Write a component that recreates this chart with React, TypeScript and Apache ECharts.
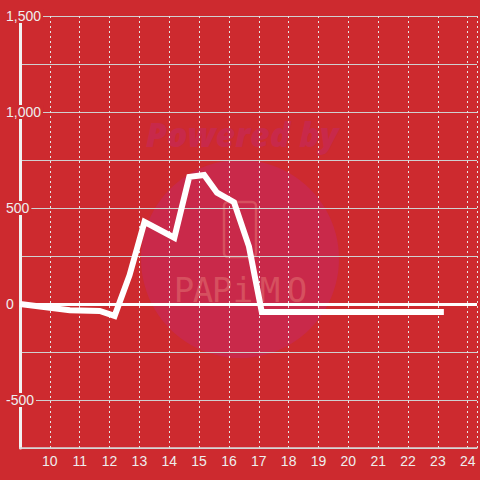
import React, { useEffect, useRef } from "react";
import * as echarts from "echarts";

const hours = [9.0, 10.67, 11.67, 12.17, 12.67, 13.17, 14.17, 14.67, 15.17, 15.6, 16.17, 16.67, 17.1, 23.2];
const values = [0, -33, -36, -62, 150, 428, 345, 662, 672, 580, 530, 300, -42, -42];
const xTicks = [10, 11, 12, 13, 14, 15, 16, 17, 18, 19, 20, 21, 22, 23, 24];

const BG = "#cd2a2f";

export default function App() {
  const ref = useRef<HTMLDivElement>(null);
  useEffect(() => {
    document.body.style.margin = "0";
    const chart = echarts.init(ref.current!, undefined, { renderer: "svg" });
    chart.setOption({
      animation: false,
      backgroundColor: BG,
      textStyle: { fontFamily: "Liberation Sans, Arial, sans-serif" },
      grid: { left: 20, right: 0, top: 16, bottom: 32, containLabel: false },
      graphic: [
        { type: "circle", z: -1, shape: { cx: 240, cy: 259, r: 99 }, style: { fill: "#c9294a" }, silent: true },
        {
          type: "text", z: -1, x: 242, y: 134, silent: true,
          style: {
            text: "Powered by", fill: "#c8294a", font: "italic 800 34px 'Open Sans', sans-serif",
            align: "center", verticalAlign: "middle",
          },
        },
        {
          type: "rect", z: -1, silent: true,
          shape: { x: 224, y: 202, width: 32, height: 55, r: 4 },
          style: { fill: "none", stroke: "#d6505f", lineWidth: 2.5 },
        },
        ...["P", "A", "P", "i", "M", "O"].map((ch, i) => ({
          type: "text", z: -1, silent: true,
          x: [184, 203, 222, 243, 270, 297][i], y: 290,
          style: {
            text: ch, fill: "#d6505f", font: "34px 'DejaVu Sans Mono', monospace",
            align: "center", verticalAlign: "middle",
          },
        })),
      ],
      xAxis: {
        type: "value",
        min: 9,
        max: 24.31,
        interval: 1,
        axisLine: { onZero: false, lineStyle: { color: "#d8d8d8", width: 1.5 } },
        axisTick: { show: false },
        axisLabel: {
          color: "#eeeeee", fontSize: 14, margin: 6,
          formatter: (v: number) => (xTicks.includes(v) ? String(v) : ""),
        },
        splitLine: { show: true, lineStyle: { color: "#e6e6e6", type: [2, 3], width: 1 } },
      },
      yAxis: {
        type: "value",
        min: -750,
        max: 1500,
        interval: 250,
        axisLine: { show: true, lineStyle: { color: "#f2f2f2", width: 3 } },
        axisTick: { show: false },
        axisLabel: {
          align: "left",
          margin: 14,
          formatter: (v: number) =>
            v % 500 === 0 && v !== -750 ? "{a|" + v.toLocaleString("en-US") + "}" : "",
          rich: {
            a: { color: "#eeeeee", fontSize: 14, backgroundColor: BG, padding: [0, 2, 0, 0] },
          },
        },
        splitLine: { show: true, lineStyle: { color: "#d0d0d0", width: 1 } },
      },
      series: [
        {
          type: "line",
          data: hours.map((h, i) => [h, values[i]]),
          showSymbol: false,
          symbol: "none",
          lineStyle: { color: "#ffffff", width: 6, join: "miter" },
          markLine: {
            silent: true,
            symbol: "none",
            label: { show: false },
            lineStyle: { color: "#ffffff", width: 3, type: "solid" },
            data: [{ yAxis: 0 }],
          },
          z: 3,
        },
      ],
    });
    return () => chart.dispose();
  }, []);
  return <div ref={ref} style={{ width: 480, height: 480 }} />;
}
